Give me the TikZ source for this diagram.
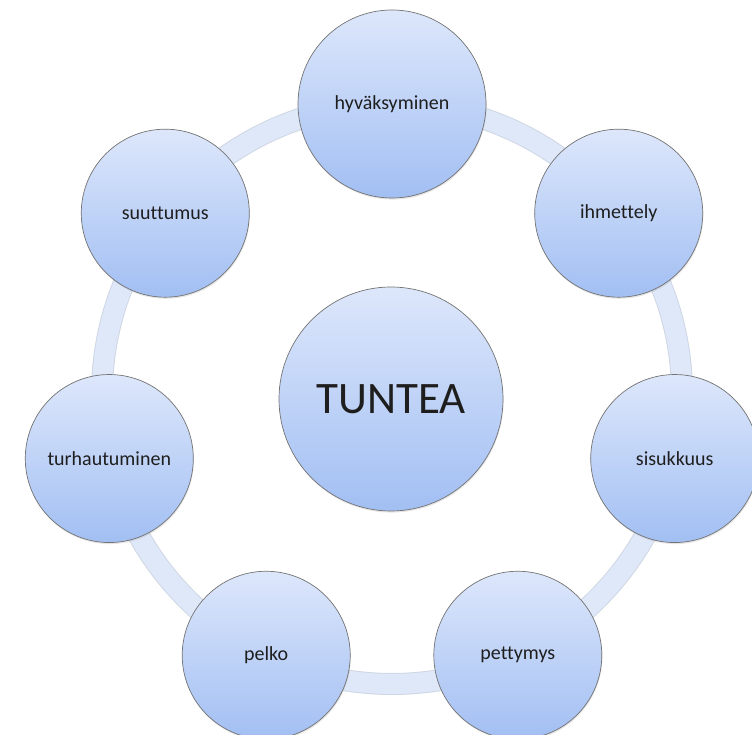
\documentclass[tikz,border=0pt]{standalone}
\usepackage{fontspec}
\setmainfont{Carlito}[Ligatures=NoCommon]
\usetikzlibrary{calc,shadows}

\definecolor{ctop}{HTML}{DDE7FB}
\definecolor{cbot}{HTML}{A2BFF3}
\definecolor{ringfill}{HTML}{DFE8F9}
\definecolor{ringedge}{HTML}{D0D7E4}
\definecolor{txt}{HTML}{1E1E1E}

\tikzset{
  feel/.style={circle, draw=black!55, line width=0.7pt,
    top color=ctop, bottom color=cbot, text=txt, inner sep=0pt,
    minimum size=168pt, font=\fontsize{20}{24}\selectfont,
    drop shadow={opacity=0.2, shadow xshift=0.6pt, shadow yshift=-1.6pt}},
  core/.style={feel, minimum size=224pt, font=\fontsize{45}{54}\selectfont}
}

\begin{document}
\begin{tikzpicture}[x=1pt, y=1pt]
  \useasboundingbox (0,0) rectangle (752,735);
  \coordinate (o) at (392,341);

  % ring behind the circles
  \draw[ringedge, line width=22pt] (o) circle (290);
  \draw[ringfill, line width=20pt] (o) circle (290);

  \node[core] (tuntea) at (391,336) {TUNTEA};

  \node[feel, minimum size=188pt] (hyv) at ($(o)+(90:290)$) {hyväksyminen};
  \node[feel] (ihm) at ($(o)+(38.57:290)$) {ihmettely};
  \node[feel] (sis) at ($(o)+(-12.86:290)$) {sisukkuus};
  \node[feel] (pet) at ($(o)+(-64.29:290)$) {pettymys};
  \node[feel] (pel) at ($(o)+(-115.71:290)$) {pelko};
  \node[feel] (tur) at ($(o)+(-167.14:290)$) {turhautuminen};
  \node[feel] (suu) at ($(o)+(141.43:290)$) {suuttumus};
\end{tikzpicture}
\end{document}
